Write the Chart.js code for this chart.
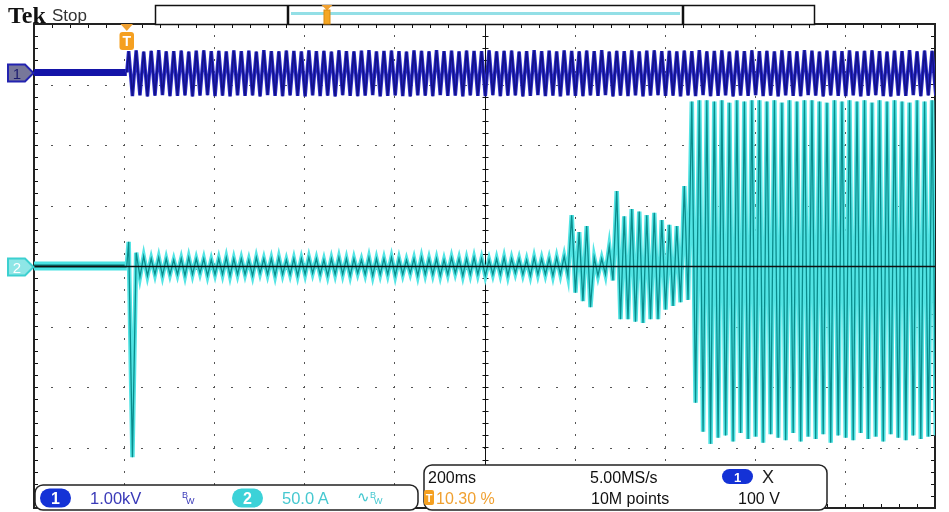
<!DOCTYPE html>
<html>
<head>
<meta charset="utf-8">
<script src="https://cdn.jsdelivr.net/npm/chart.js@4.4.0/dist/chart.umd.min.js"></script>
<style>
  body { margin: 0; background: #fff; }
  #wrap { position: relative; width: 949px; height: 512px; overflow: hidden; }
  #scope { position: absolute; left: 0; top: 0; }
  #overlay { position: absolute; left: 0; top: 0; font-family: "Liberation Sans", Arial, sans-serif; }
</style>
</head>
<body>
<div id="wrap">
<canvas id="scope" width="949" height="512"></canvas>
<svg id="overlay" width="949" height="512" viewBox="0 0 949 512">
  <!-- header -->
  <text x="8" y="23" font-family="Liberation Serif" font-weight="bold" font-size="24" fill="#111">Tek</text>
  <text x="52" y="21" font-size="17" fill="#333">Stop</text>
  <!-- record view bar -->
  <rect x="155.5" y="5.5" width="659" height="19" fill="#fff" stroke="#111" stroke-width="1.5"/>
  <line x1="288" y1="5" x2="288" y2="25" stroke="#111" stroke-width="2.5"/>
  <line x1="683" y1="5" x2="683" y2="25" stroke="#111" stroke-width="2.5"/>
  <line x1="291" y1="13.5" x2="680" y2="13.5" stroke="#93dfe6" stroke-width="3"/>
  <polygon points="321.5,5 332.5,5 327,10.5" fill="#f0a030"/>
  <rect x="324" y="10" width="6" height="14" fill="#f5a623" stroke="#d98a10" stroke-width="1"/>
  <!-- trigger position marker -->
  <polygon points="120.5,24 133,24 126.8,31" fill="#f0a030"/>
  <rect x="119.5" y="32" width="14.5" height="18" rx="3" fill="#f5a020"/>
  <text x="126.8" y="46" text-anchor="middle" font-size="14" font-weight="bold" fill="#fff">T</text>
  <!-- channel markers -->
  <path d="M8,64.5 H25 L33.5,73 L25,81.5 H8 Z" fill="#77779a" stroke="#2323b0" stroke-width="2"/>
  <text x="17" y="79" text-anchor="middle" font-size="15" fill="#1c1c70">1</text>
  <path d="M8,258.5 H25 L33.5,267 L25,275.5 H8 Z" fill="#8ee6e6" stroke="#3cd0d0" stroke-width="2"/>
  <text x="17" y="273" text-anchor="middle" font-size="15" fill="#fff">2</text>
  <!-- vertical settings box -->
  <rect x="35" y="485" width="383" height="25" rx="8" fill="#fff" stroke="#222" stroke-width="1.5"/>
  <rect x="40" y="488.5" width="31" height="19" rx="9.5" fill="#1432d6"/>
  <text x="55.5" y="503.5" text-anchor="middle" font-size="16" font-weight="bold" fill="#fff">1</text>
  <text x="90" y="503.5" font-size="16.5" fill="#3a3ab8">1.00kV</text>
  <text x="182" y="498" font-size="9" fill="#3a3ab8">B</text>
  <text x="186" y="504" font-size="9" fill="#3a3ab8">W</text>
  <rect x="232" y="488.5" width="31" height="19" rx="9.5" fill="#3cd2d8"/>
  <text x="247.5" y="503.5" text-anchor="middle" font-size="16" font-weight="bold" fill="#fff">2</text>
  <text x="282" y="503.5" font-size="16.5" fill="#46c8d0">50.0 A</text>
  <text x="357" y="502" font-size="15" fill="#46c8d0">∿</text>
  <text x="370" y="498" font-size="9" fill="#46c8d0">B</text>
  <text x="374" y="504" font-size="9" fill="#46c8d0">W</text>
  <!-- horizontal / trigger settings box -->
  <rect x="424" y="465" width="403" height="45" rx="8" fill="#fff" stroke="#222" stroke-width="1.5"/>
  <text x="428" y="483" font-size="16" fill="#111">200ms</text>
  <text x="590" y="483" font-size="16" fill="#111">5.00MS/s</text>
  <rect x="722" y="469" width="31" height="15" rx="7.5" fill="#1432d6"/>
  <text x="737.5" y="481.5" text-anchor="middle" font-size="13" font-weight="bold" fill="#fff">1</text>
  <text x="762" y="483" font-size="18" fill="#222">X</text>
  <rect x="424" y="490" width="10" height="15" rx="2" fill="#f5a020"/>
  <text x="429" y="502" text-anchor="middle" font-size="11" font-weight="bold" fill="#fff">T</text>
  <text x="436" y="503.5" font-size="16" fill="#f0a030">10.30 %</text>
  <text x="591" y="503.5" font-size="16" fill="#111">10M points</text>
  <text x="738" y="503.5" font-size="16" fill="#111">100 V</text>
</svg>
</div>
<script>
// screen settings
var msPerDiv = 200;
var trigPercent = 10.30;
var mainsPeriodMs = 1000 / 60;
var ch1VoltsPerDiv = 1000, ch1Pos = 3.2;
var ch2AmpsPerDiv = 50, ch2Pos = 0;

// channel 1 (V): positive / negative peak of each mains cycle after the trigger
var ch1Hi = [
  350,362,345,356,366,348,352,360,344,358,364,350,
  355,346,362,350,358,344,366,352,348,360,354,346,
  362,350,356,344,364,352,348,358,366,346,354,360,
  350,344,362,356,348,366,352,358,346,360,354,350,
  364,348,356,360,344,352,366,350,358,346,362,354,
  348,360,352,366,344,356,350,362,346,358,364,352,
  356,346,360,350,366,348,354,362,344,358,352,364,
  350,356,346,362,352,348,366,358,344,360,354,350,
  362,346,356,364,350,344,358,352,366,348,360,356
];
var ch1Lo = [
  -390,-378,-396,-384,-374,-392,-386,-380,-398,-382,-376,-390,
  -384,-394,-378,-388,-380,-396,-374,-386,-392,-380,-386,-394,
  -378,-390,-384,-396,-376,-388,-392,-382,-374,-394,-386,-380,
  -390,-396,-378,-384,-392,-374,-388,-382,-394,-380,-386,-390,
  -376,-392,-384,-380,-396,-388,-374,-390,-382,-394,-378,-386,
  -392,-380,-388,-374,-396,-384,-390,-378,-394,-382,-376,-388,
  -384,-394,-380,-390,-374,-392,-386,-378,-396,-382,-388,-376,
  -390,-384,-394,-378,-388,-392,-374,-382,-396,-380,-386,-390,
  -378,-394,-384,-376,-390,-396,-382,-388,-374,-392,-380,-384
];

// channel 2 (A): positive / negative peak of each mains cycle after the trigger
var ch2Hi = [
  20, 11, 8, 6, 7, 6, 5, 6, 7, 6, 6, 5,
  6, 7, 6, 6, 5, 7, 6, 6, 7, 5, 6, 6,
  7, 6, 5, 6, 7, 6, 6, 5, 7, 6, 6, 7,
  6, 5, 6, 7, 6, 6, 5, 7, 6, 6, 7, 6,
  5, 6, 7, 6, 6, 5, 7, 6, 6, 7, 8, 42,
  28, 33, 7, 6, 16, 62, 41, 47, 45, 42, 44, 38,
  34, 33, 66, 136, 137, 137, 136, 137, 135, 137, 136, 137,
  137, 136, 137, 135, 137, 136, 137, 137, 136, 135, 137, 136,
  137, 136, 137, 135, 137, 136, 137, 136, 135, 137, 136, 137
];
var ch2Lo = [
  -158, -9, -8, -7, -8, -7, -7, -8, -7, -6, -8, -7,
  -7, -8, -7, -7, -8, -6, -7, -8, -7, -7, -8, -7,
  -6, -7, -8, -7, -7, -8, -6, -7, -8, -7, -7, -8,
  -7, -6, -8, -7, -7, -8, -7, -6, -8, -7, -7, -8,
  -7, -7, -8, -6, -7, -8, -7, -7, -8, -7, -8, -22,
  -29, -34, -8, -7, -12, -44, -44, -46, -47, -44, -44, -36,
  -33, -30, -28, -113, -137, -147, -142, -140, -145, -138, -143, -141,
  -146, -139, -142, -144, -138, -145, -141, -143, -139, -146, -140, -142,
  -144, -138, -143, -141, -145, -139, -142, -144, -140, -143, -141, -140
];

// before the trigger both traces sit on their ground level
var preTrigCh1 = [0, 0];
var preTrigCh2 = [0, 0];

var tMin = -trigPercent / 100 * msPerDiv * 10;
var tMax = tMin + msPerDiv * 10;

function ch1Div(v) { return v / ch1VoltsPerDiv + ch1Pos; }
function ch2Div(a) { return a / ch2AmpsPerDiv + ch2Pos; }

function prePoints(vals, toDiv) {
  return vals.map(function(v, i) {
    return { x: tMin + i * (0 - tMin) / (vals.length - 1), y: toDiv(v) };
  });
}

function cyclePoints(hi, lo, toDiv) {
  var pts = [{ x: 0, y: toDiv(0) }];
  hi.forEach(function(h, k) {
    var t0 = k * mainsPeriodMs;
    pts.push({ x: t0 + mainsPeriodMs * 0.25, y: toDiv(h) });
    pts.push({ x: t0 + mainsPeriodMs * 0.75, y: toDiv(lo[k]) });
  });
  return pts;
}

var ch1Pts = cyclePoints(ch1Hi, ch1Lo, ch1Div);
var ch2Pts = cyclePoints(ch2Hi, ch2Lo, ch2Div);

/* graticule: dotted divisions, center cross with ticks, border ticks */
var graticule = {
  id: 'graticule',
  beforeDatasetsDraw: function(chart) {
    var ctx = chart.ctx, a = chart.chartArea, xs = chart.scales.x, ys = chart.scales.y;
    ctx.save();
    ctx.fillStyle = '#555';
    var i, j, px, py;
    for (i = 1; i < 10; i++) {
      if (i == 5) continue;
      px = Math.round(xs.getPixelForValue(tMin + i * msPerDiv));
      for (j = -4; j <= 4; j += 0.2) {
        py = Math.round(ys.getPixelForValue(j));
        ctx.fillRect(px, py - 1, 1, 2);
      }
    }
    for (j = -3; j <= 3; j++) {
      if (j == 0) continue;
      py = Math.round(ys.getPixelForValue(j));
      for (i = 0; i <= 50; i++) {
        px = Math.round(xs.getPixelForValue(tMin + i * msPerDiv / 5));
        ctx.fillRect(px - 1, py, 2, 1);
      }
    }
    // center cross
    var cx = Math.round(xs.getPixelForValue(tMin + 5 * msPerDiv)) + 0.5;
    var cy = Math.round(ys.getPixelForValue(0)) + 0.5;
    ctx.strokeStyle = '#111';
    ctx.lineWidth = 1;
    ctx.beginPath();
    ctx.moveTo(cx, a.top); ctx.lineTo(cx, a.bottom);
    for (j = -4; j <= 4; j += 0.2) {
      py = Math.round(ys.getPixelForValue(j)) + 0.5;
      ctx.moveTo(cx - 3, py); ctx.lineTo(cx + 3, py);
    }
    for (i = 0; i <= 50; i++) {
      px = Math.round(xs.getPixelForValue(tMin + i * msPerDiv / 5)) + 0.5;
      ctx.moveTo(px, cy - 3); ctx.lineTo(px, cy + 3);
    }
    // border ticks
    for (j = -4; j <= 4; j += 0.2) {
      py = Math.round(ys.getPixelForValue(j)) + 0.5;
      ctx.moveTo(a.left, py); ctx.lineTo(a.left + 4, py);
      ctx.moveTo(a.right, py); ctx.lineTo(a.right - 4, py);
    }
    for (i = 0; i <= 50; i++) {
      px = Math.round(xs.getPixelForValue(tMin + i * msPerDiv / 5)) + 0.5;
      ctx.moveTo(px, a.top); ctx.lineTo(px, a.top + 4);
      ctx.moveTo(px, a.bottom); ctx.lineTo(px, a.bottom - 4);
    }
    ctx.stroke();
    ctx.lineWidth = 2;
    ctx.strokeStyle = '#222';
    ctx.strokeRect(a.left, a.top, a.right - a.left, a.bottom - a.top);
    ctx.restore();
  },
  afterDatasetsDraw: function(chart) {
    // ch2 ground reference line drawn over the trace
    var ctx = chart.ctx, a = chart.chartArea;
    var y0 = Math.round(chart.scales.y.getPixelForValue(ch2Div(0))) + 0.5;
    ctx.save();
    ctx.strokeStyle = '#111';
    ctx.lineWidth = 1.5;
    ctx.beginPath();
    ctx.moveTo(a.left, y0); ctx.lineTo(a.right, y0);
    ctx.stroke();
    ctx.restore();
  }
};

var ctx = document.getElementById('scope').getContext('2d');
var scopeChart = new Chart(ctx, {
  type: 'line',
  data: {
    datasets: [
      { label: 'CH1', data: ch1Pts, borderColor: '#121288', borderWidth: 1.6, order: 0 },
      { label: 'CH1 glow', data: ch1Pts, borderColor: '#2a2ac8', borderWidth: 3.5, order: 1 },
      { label: 'CH1 pre', data: prePoints(preTrigCh1, ch1Div), borderColor: '#1414a8', borderWidth: 7, order: 2 },
      { label: 'CH2', data: ch2Pts, borderColor: '#0a8c8c', borderWidth: 1.3, order: 3 },
      { label: 'CH2 glow', data: ch2Pts, borderColor: '#52e4e4', borderWidth: 4.5, order: 4 },
      { label: 'CH2 pre core', data: prePoints(preTrigCh2, ch2Div), borderColor: '#0a6e6e', borderWidth: 3, order: 5 },
      { label: 'CH2 pre', data: prePoints(preTrigCh2, ch2Div), borderColor: '#48e2e2', borderWidth: 9, order: 6 }
    ]
  },
  options: {
    responsive: false,
    animation: false,
    devicePixelRatio: 1,
    events: [],
    layout: { padding: { left: 34, top: 24, right: 14, bottom: 4 } },
    elements: { point: { radius: 0 }, line: { tension: 0, borderCapStyle: 'butt' } },
    plugins: { legend: { display: false }, tooltip: { enabled: false } },
    scales: {
      x: { type: 'linear', display: false, min: tMin, max: tMax },
      y: { type: 'linear', display: false, min: -4, max: 4 }
    }
  },
  plugins: [graticule]
});
</script>
</body>
</html>
